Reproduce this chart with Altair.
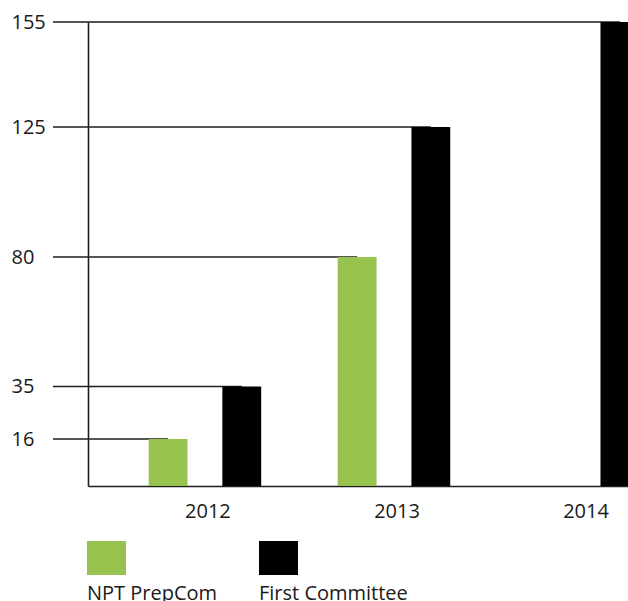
import altair as alt
import pandas as pd

# Data
years = ["2012", "2012", "2013", "2013", "2014"]
series = ["NPT PrepCom", "First Committee", "NPT PrepCom", "First Committee", "First Committee"]
values = [16, 35, 80, 125, 155]

year_order = ["2012", "2013", "2014"]
series_order = ["NPT PrepCom", "First Committee"]
series_colors = ["#96c24d", "#000000"]
tick_values = [16, 35, 80, 125, 155]

df = pd.DataFrame({"year": years, "series": series, "value": values})

# The original drawing uses an uneven (piecewise) vertical scale
y_domain = [0, 16, 35, 80, 125, 155]
y_range = [464, 417, 364.5, 235, 105, 0]
yscale = alt.Scale(type="linear", domain=y_domain, range=y_range, nice=False, zero=False)
xscale = alt.Scale(domain=year_order, range=[0, 612], paddingInner=0.405, paddingOuter=0.321)
offscale = alt.Scale(domain=series_order, paddingInner=0.473, paddingOuter=0)

FONT = "Open Sans"
TXT = "#1a1a1a"
LINE = "#1e1e1e"

base = alt.Chart(df)

rules = base.mark_rule(color=LINE, strokeWidth=1.3).encode(
    x=alt.X("year:N", scale=xscale, bandPosition=0),
    xOffset=alt.XOffset("series:N", scale=offscale),
    x2=alt.value(-35),
    y=alt.Y("value:Q", scale=yscale),
)

bars = base.mark_bar().encode(
    x=alt.X(
        "year:N",
        scale=xscale,
        axis=alt.Axis(
            title=None, labelAngle=0, labelAlign="center", labelBaseline="top",
            ticks=False, tickSize=0, labelPadding=15,
            labelFontSize=20, labelColor=TXT, labelFont=FONT, domainColor=LINE,
            domainWidth=1.6, grid=False, bandPosition=0.5, labelOffset=3,
        ),
    ),
    xOffset=alt.XOffset("series:N", scale=offscale),
    y=alt.Y(
        "value:Q",
        scale=yscale,
        axis=alt.Axis(
            values=tick_values, title=None, ticks=False, tickSize=0,
            labelAlign="left", labelBaseline="middle", labelPadding=77,
            labelFontSize=20, labelColor=TXT, labelFont=FONT, domainColor=LINE,
            domainWidth=1.6, grid=False,
        ),
    ),
    color=alt.Color(
        "series:N",
        scale=alt.Scale(domain=series_order, range=series_colors),
        legend=alt.Legend(
            title=None, orient="none", legendX=-1, legendY=520,
            direction="horizontal",
            symbolType="M-1,-1.06H1V0.68H-1Z", symbolSize=1521,
            symbolStrokeWidth=0, labelOffset={"expr": "-39"},
            labelExpr="['', datum.label]",
            labelBaseline="top", labelFontSize=20, labelColor=TXT, labelFont=FONT,
            columnPadding=41, padding=0,
        ),
    ),
)

chart = (
    alt.layer(rules, bars)
    .properties(
        width=540,
        height=464,
        autosize=alt.AutoSizeParams(type="none"),
        padding={"left": 88, "top": 22, "right": 0, "bottom": 115},
    )
    .configure_view(stroke=None)
    .configure(font=FONT)
)

chart.save("out.html", embed_options={"renderer": "svg", "actions": False})
